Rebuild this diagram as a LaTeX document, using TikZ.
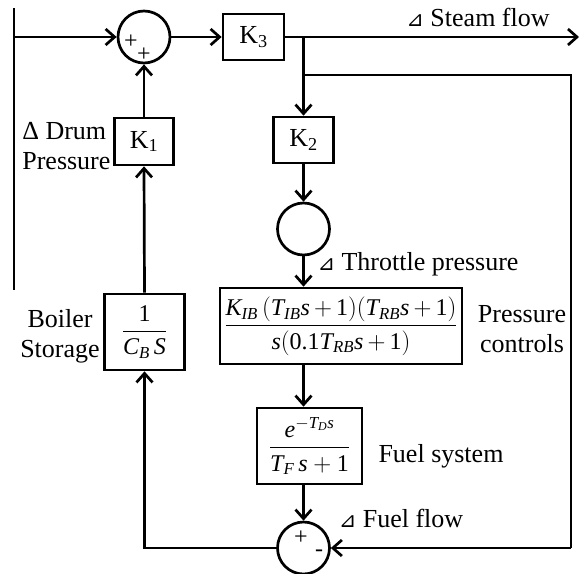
\documentclass[tikz,border=0pt]{standalone}
\usepackage{amsmath}
\usepackage{fontspec}
\setmainfont{Liberation Serif}
\newfontfamily\djv{DejaVu Sans}
\usetikzlibrary{arrows.meta}
\newcommand\vi[1]{\text{\itshape #1}}
\newcommand\tri{{\djv\fontsize{21}{24}\selectfont ⊿}}
\newcommand\fs{\fontsize{26}{30}\selectfont}
\newcommand\fm{\fontsize{24}{28}\selectfont}
\newcommand\fp{\fontsize{24}{26}\selectfont}
\begin{document}
\begin{tikzpicture}[x=1pt,y=-1pt, line width=2.7pt,
  blk/.style={draw, rectangle, inner sep=0pt, font=\fs},
  sumc/.style={draw, circle, minimum size=52pt, inner sep=0pt},
  arr/.style={-{Straight Barb[length=9pt,width=16pt]}},
  lbl/.style={font=\fs, inner sep=0pt},
  sgn/.style={font=\fp, inner sep=0pt}]
\useasboundingbox (0,0) rectangle (580,573);
% blocks
\node[sumc] (s1) at (144,37) {};
\node[blk, minimum width=61pt, minimum height=46pt] (K3) at (253.5,37) {K$_{\text{3}}$};
\node[blk, minimum width=59pt, minimum height=47pt] (K1) at (144,141.5) {K$_{\text{1}}$};
\node[blk, minimum width=60pt, minimum height=46pt] (K2) at (303.5,140) {K$_{\text{2}}$};
\node[sumc] (c) at (303.5,229) {};
\node[blk, font=\fm, minimum width=242pt, minimum height=76pt] (P) at (341,326)
  {$\medmuskip=3mu\dfrac{\vi{K}_{\vi{IB}}\,(\vi{T}_{\vi{IB}}\vi{s}+\text{1})(\vi{T}_{\vi{RB}}\vi{s}+\text{1})}{\vi{s}(\text{0.1}\vi{T}_{\vi{RB}}\vi{s}+\text{1})}$};
\node[blk, font=\fm, minimum width=105pt, minimum height=76pt] (F) at (309.5,446)
  {$\dfrac{\vi{e}^{-\vi{T}_{\vi{D}}\vi{s}}}{\vi{T}_{\vi{F}}\,\vi{s}+\text{1}}$};
\node[sumc] (s2) at (303.5,548) {};
\node[blk, font=\fm, minimum width=80pt, minimum height=76pt] (B) at (144.5,332)
  {$\dfrac{\text{1}}{\vi{C}_{\vi{B}}\,\vi{S}}$};
% signs
\node[sgn] at (131,42) {+};
\node[sgn] at (144,55) {+};
\node[sgn] at (301,538) {+};
\node[sgn] at (319,553) {-};
% coordinates
\coordinate (lt) at (14,8);
\coordinate (lb) at (14,290);
\coordinate (in) at (14,37);
\coordinate (out) at (579,37);
\coordinate (b1) at (303.5,37);
\coordinate (b2) at (303.5,75);
\coordinate (r1) at (571,75);
\coordinate (r2) at (571,548);
\coordinate (l1) at (144.5,548);
% connectors
\draw[line width=1.5pt] (lt) -- (lb);
\draw[arr] (in) -- (s1.west);
\draw[arr] (s1.east) -- (K3.west);
\draw[arr] (K3.east) -- (out);
\draw[arr] (b1) -- (K2.north);
\draw (b2) -- (r1) -- (r2);
\draw[arr] (r2) -- (s2.east);
\draw[arr] (K2.south) -- (c.north);
\draw[arr] (c.south) -- (c.south |- P.north);
\draw[arr] (P.south -| c) -- (F.north -| c);
\draw[arr] (F.south -| c) -- (s2.north);
\draw[arr] (s2.west) -- (l1) -- (B.south);
\draw[arr] (B.north) -- (K1.south);
\draw[arr] (K1.north) -- (s1.south);
% labels
\node[lbl] (tsteam) at (478,17) {\tri\ Steam flow};
\node[lbl, align=left, anchor=west] (tdrum) at (21,146) {Δ Drum\\Pressure};
\node[lbl, align=center] (tboil) at (60,336) {Boiler\\Storage};
\node[lbl] (tthr) at (418,264) {\tri\ Throttle pressure};
\node[lbl, align=center] (tpc) at (522,329) {Pressure\\controls};
\node[lbl] (tfs) at (441,456) {Fuel system};
\node[lbl] (tff) at (401,518) {\tri\ Fuel flow};
\end{tikzpicture}
\end{document}
